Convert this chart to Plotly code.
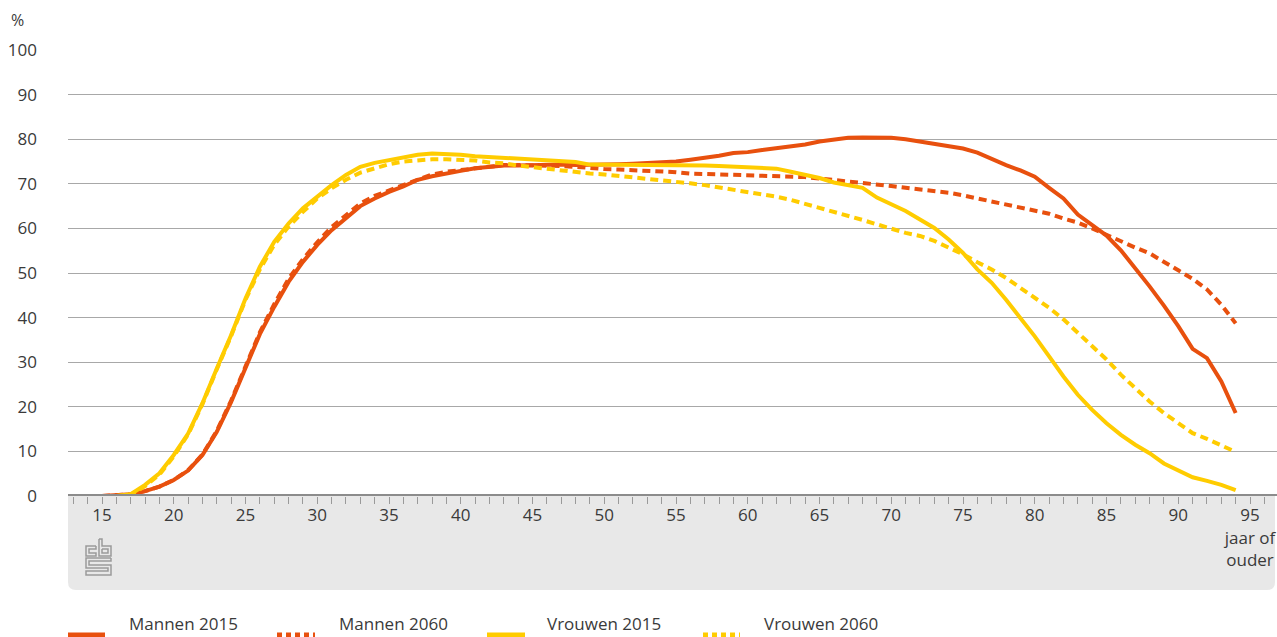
import plotly.graph_objects as go

ages = list(range(15, 95))

mannen_2015 = [0.0, 0.1, 0.4, 1.1, 2.1, 3.6, 5.7, 9.2, 14.4, 21.1,
               28.7, 36.3, 42.4, 48.0, 52.5, 56.3, 59.6, 62.3, 65.0, 66.7,
               68.2, 69.4, 70.9, 71.7, 72.2, 72.9, 73.5, 73.8, 74.1, 74.1,
               74.2, 74.3, 74.3, 74.2, 74.2, 74.3, 74.4, 74.5, 74.6, 74.8,
               75.0, 75.4, 75.8, 76.3, 76.9, 77.1, 77.6, 78.0, 78.5, 78.8,
               79.5, 80.0, 80.3, 80.4, 80.4, 80.3, 80.0, 79.5, 78.8, 78.5,
               77.9, 77.0, 75.5, 74.2, 73.0, 71.6, 69.1, 66.7, 63.1, 60.7,
               58.4, 55.1, 51.2, 47.0, 42.7, 38.1, 33.0, 30.9, 25.7, 18.6]

mannen_2060 = [0.0, 0.1, 0.4, 1.1, 2.1, 3.6, 5.8, 9.3, 14.6, 21.4,
               29.0, 36.7, 43.0, 48.7, 53.1, 56.9, 60.3, 63.0, 65.6, 67.3,
               68.5, 69.7, 71.0, 72.1, 72.7, 73.1, 73.6, 74.0, 74.2, 74.2,
               74.2, 74.2, 74.0, 73.8, 73.5, 73.3, 73.2, 73.1, 72.9, 72.8,
               72.6, 72.3, 72.2, 72.1, 72.0, 72.0, 72.0, 71.9, 71.7, 71.5,
               71.2, 70.9, 70.4, 70.1, 69.9, 69.5, 69.1, 68.8, 68.5, 68.0,
               67.4, 66.7, 66.1, 65.4, 64.8, 64.1, 63.3, 62.2, 61.3, 60.0,
               58.5, 57.0, 55.7, 54.4, 52.4, 50.6, 48.7, 46.3, 42.9, 38.7]

vrouwen_2015 = [0.0, 0.0, 0.4, 2.5, 5.1, 9.2, 14.0, 20.8, 28.6, 36.1,
                44.3, 51.4, 57.0, 61.1, 64.5, 67.1, 69.7, 72.0, 73.8, 74.7,
                75.3, 75.9, 76.5, 76.8, 76.7, 76.5, 76.2, 76.0, 75.7, 75.6,
                75.3, 75.1, 75.0, 74.9, 74.3, 74.3, 74.3, 74.3, 74.3, 74.3,
                74.3, 74.2, 74.1, 74.0, 73.8, 73.7, 73.6, 73.4, 72.7, 72.0,
                71.3, 70.3, 69.7, 69.1, 66.9, 65.4, 63.9, 62.0, 60.1, 57.5,
                54.5, 50.8, 47.8, 44.0, 39.9, 35.8, 31.3, 26.8, 22.7, 19.3,
                16.3, 13.7, 11.5, 9.6, 7.3, 5.7, 4.2, 3.4, 2.5, 1.3]

vrouwen_2060 = [0.0, 0.0, 0.3, 2.2, 4.8, 8.9, 13.8, 20.6, 28.4, 35.9,
                44.0, 50.8, 56.3, 60.4, 63.7, 66.7, 69.0, 70.9, 72.5, 73.5,
                74.4, 75.0, 75.3, 75.5, 75.5, 75.4, 75.2, 74.8, 74.6, 74.1,
                73.7, 73.3, 72.9, 72.6, 72.3, 72.1, 71.8, 71.5, 71.2, 70.9,
                70.5, 70.1, 69.7, 69.2, 68.8, 68.2, 67.7, 67.1, 66.4, 65.5,
                64.6, 63.9, 62.8, 61.9, 60.9, 59.9, 59.0, 58.3, 57.2, 55.7,
                54.2, 52.4, 50.8, 48.9, 46.7, 44.4, 42.2, 39.6, 36.6, 33.6,
                30.6, 27.2, 24.2, 21.2, 18.6, 16.3, 14.1, 12.8, 11.3, 9.9]

x_tickvals = [15, 20, 25, 30, 35, 40, 45, 50, 55, 60, 65, 70, 75, 80, 85, 90, 95]
x_ticktext = ["15", "20", "25", "30", "35", "40", "45", "50", "55", "60",
              "65", "70", "75", "80", "85", "90", "95<br>jaar of<br>ouder"]
y_tickvals = [0, 10, 20, 30, 40, 50, 60, 70, 80, 90, 100]

series_names = ["Mannen 2015", "Mannen 2060", "Vrouwen 2015", "Vrouwen 2060"]
RED = "#E8500E"
YEL = "#FFCC00"
colors = [RED, RED, YEL, YEL]
dashes = ["solid", "8px,5px", "solid", "8px,5px"]
legend_dashes = ["solid", "5px,4px", "solid", "5px,4px"]

W, H = 1277, 637
L, T, B = 68, 50, 496          # pixel positions of plot area
PW = W - L
PH = B - T


def px2p(px, py):
    return (px - L) / PW, (B - py) / PH


FONT = "Open Sans, Noto Sans, sans-serif"
TXT = "#3a3a3a"

fig = go.Figure()
for name, vals, c, d in zip(series_names,
                            [mannen_2015, mannen_2060, vrouwen_2015, vrouwen_2060],
                            colors, dashes):
    fig.add_trace(go.Scatter(x=ages, y=vals, mode="lines", name=name,
                             line=dict(color=c, width=4, dash=d),
                             showlegend=False, hoverinfo="x+y+name"))

shapes = []
# gray band under the axis with rounded bottom corners
x0, y0 = px2p(68, 496)
x1, y1 = px2p(1275, 590)
r = 8
_, yr = px2p(0, 590 - r)
xr0, _ = px2p(68 + r, 0)
xr1, _ = px2p(1275 - r, 0)
path = (f"M {x0},{y0} L {x1},{y0} L {x1},{yr} Q {x1},{y1} {xr1},{y1} "
        f"L {xr0},{y1} Q {x0},{y1} {x0},{yr} Z")
shapes.append(dict(type="path", xref="paper", yref="paper", path=path,
                   fillcolor="#e8e8e8", line=dict(width=0), layer="below"))

# axis line at zero
shapes.append(dict(type="line", xref="paper", yref="y", x0=0, x1=1, y0=0, y1=0,
                   line=dict(color="#8c8c8c", width=4), layer="above"))


# cbs logo (outlined glyph)
def logo_path(points):
    pts = [px2p(a, b) for a, b in points]
    return f"M {pts[0][0]},{pts[0][1]} " + " ".join(f"L {p[0]},{p[1]}" for p in pts[1:])


logo_parts = [
    [(96, 546), (86, 546), (86, 556), (96, 556), (96, 553), (89, 553), (89, 549), (96, 549), (96, 546)],
    [(99, 539), (99, 556), (111, 556), (111, 546), (102, 546), (102, 539), (99, 539)],
    [(102, 549), (108, 549), (108, 553), (102, 553), (102, 549)],
    [(111, 558), (86, 558), (86, 568), (108, 568), (108, 571), (86, 571), (86, 575),
     (111, 575), (111, 565), (89, 565), (89, 561), (111, 561), (111, 558)],
]
for part in logo_parts:
    shapes.append(dict(type="path", xref="paper", yref="paper", path=logo_path(part),
                       line=dict(color="#9a9a9a", width=1.5), layer="above"))

# custom legend
legend_x = [(68, 105, 127), (277, 315, 337), (487, 525, 545), (703, 740, 762)]
annotations = []
for (lx0, lx1, tx), name, c, d in zip(legend_x, series_names, colors, legend_dashes):
    a0, ly = px2p(lx0, 635)
    a1, _ = px2p(lx1, 635)
    shapes.append(dict(type="line", xref="paper", yref="paper", x0=a0, x1=a1,
                       y0=ly, y1=ly, line=dict(color=c, width=5, dash=d)))
    tx_p, ty_p = px2p(tx, 636.5)
    annotations.append(dict(xref="paper", yref="paper", x=tx_p, y=ty_p,
                            xanchor="left", yanchor="bottom", text=name,
                            showarrow=False, font=dict(family=FONT, size=17, color=TXT)))

px_, py_ = px2p(9, 20)
annotations.append(dict(xref="paper", yref="paper", x=px_, y=py_, xanchor="left",
                        yanchor="middle", text="%", showarrow=False,
                        font=dict(family=FONT, size=16, color=TXT)))

fig.update_layout(
    width=W, height=H,
    margin=dict(l=L, r=0, t=T, b=(H - B), pad=0),
    paper_bgcolor="white", plot_bgcolor="white",
    font=dict(family=FONT, size=17, color=TXT),
    shapes=shapes, annotations=annotations,
    showlegend=False,
    xaxis=dict(range=[12.63, 96.88], tickmode="array", tickvals=x_tickvals,
               ticktext=x_ticktext, showgrid=False, zeroline=False, showline=False,
               ticks="outside", ticklen=7, tickcolor="#9a9a9a", tickwidth=1,
               ticklabelstandoff=-3,
               minor=dict(dtick=1, tick0=15, ticks="outside", ticklen=7,
                          tickcolor="#9a9a9a", tickwidth=1, showgrid=False),
               tickfont=dict(family=FONT, size=17, color=TXT)),
    yaxis=dict(range=[0, 100], tickmode="array", tickvals=y_tickvals,
               showgrid=True, gridcolor="#a8a8a8", gridwidth=1, zeroline=False,
               showline=False, ticks="", ticklabelstandoff=30,
               tickfont=dict(family=FONT, size=17, color=TXT)),
)

fig.write_html(
    "out.html",
    config={"displayModeBar": False},
    post_script="document.body.style.margin='0';document.body.style.overflow='hidden';",
)
